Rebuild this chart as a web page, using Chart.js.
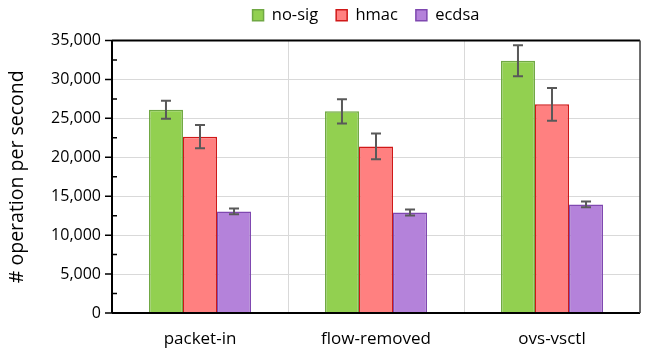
<!DOCTYPE html>
<html>
<head>
<meta charset="utf-8">
<script src="https://cdn.jsdelivr.net/npm/chart.js@4"></script>
<style>
  html, body { margin: 0; padding: 0; background: #fff; }
  #wrap { width: 648px; height: 353px; }
</style>
</head>
<body>
<div id="wrap"><canvas id="chart" width="648" height="353"></canvas></div>
<script>
// data
const categories = ["packet-in", "flow-removed", "ovs-vsctl"];
const noSig = [26100, 25900, 32400];
const noSigErr = [1150, 1550, 2000];
const hmac = [22650, 21400, 26800];
const hmacErr = [1500, 1650, 2100];
const ecdsa = [13050, 12900, 13950];
const ecdsaErr = [370, 380, 360];
const yTicks = [0, 5000, 10000, 15000, 20000, 25000, 30000, 35000];

const FONT = "'Open Sans', 'Noto Sans', sans-serif";

// error bars + frame + minor ticks
const extras = {
  id: "extras",
  beforeInit(chart) {
    // legend shorter so the plot starts at the right height
    const fit = chart.legend.fit;
    chart.legend.fit = function () { fit.call(this); this.height -= 4; };
  },
  beforeDraw(chart) {
    // legend centred over the plot and nudged up
    const lg = chart.legend;
    lg.left += 46; lg.right += 46;
    lg.top -= 11; lg.bottom -= 11;
  },
  afterDatasetsDraw(chart) {
    const ctx = chart.ctx;
    const y = chart.scales.y;
    const errs = [noSigErr, hmacErr, ecdsaErr];
    ctx.save();
    ctx.strokeStyle = "#595959";
    ctx.lineWidth = 2;
    chart.data.datasets.forEach((ds, i) => {
      chart.getDatasetMeta(i).data.forEach((bar, j) => {
        const v = ds.data[j], e = errs[i][j];
        const top = y.getPixelForValue(v + e), bot = y.getPixelForValue(v - e);
        ctx.beginPath();
        ctx.moveTo(bar.x, top); ctx.lineTo(bar.x, bot);
        ctx.moveTo(bar.x - 5, top); ctx.lineTo(bar.x + 5, top);
        ctx.moveTo(bar.x - 5, bot); ctx.lineTo(bar.x + 5, bot);
        ctx.stroke();
      });
    });
    const a = chart.chartArea;
    // frame
    ctx.strokeStyle = "#000";
    ctx.lineWidth = 2;
    ctx.beginPath();
    ctx.moveTo(a.left, a.top); ctx.lineTo(a.right, a.top);
    ctx.moveTo(a.left, a.bottom); ctx.lineTo(a.right, a.bottom);
    ctx.moveTo(a.left, a.top); ctx.lineTo(a.left, a.bottom);
    ctx.stroke();
    ctx.strokeStyle = "#404040";
    ctx.lineWidth = 1.5;
    ctx.beginPath();
    ctx.moveTo(a.right, a.top); ctx.lineTo(a.right, a.bottom);
    ctx.stroke();
    // major ticks outside, minor inside
    ctx.strokeStyle = "#000";
    ctx.lineWidth = 1.5;
    ctx.beginPath();
    yTicks.forEach(t => {
      const p = y.getPixelForValue(t);
      ctx.moveTo(a.left - 7, p); ctx.lineTo(a.left, p);
      if (t < 35000) {
        const m = y.getPixelForValue(t + 2500);
        ctx.moveTo(a.left, m); ctx.lineTo(a.left + 5, m);
      }
    });
    ctx.stroke();
    ctx.restore();
  }
};

new Chart(document.getElementById("chart"), {
  type: "bar",
  data: {
    labels: categories,
    datasets: [
      { label: "no-sig", data: noSig, backgroundColor: "#92d050", borderColor: "#70a844", borderWidth: 1.5 },
      { label: "hmac", data: hmac, backgroundColor: "#ff8080", borderColor: "#d01818", borderWidth: 1.5 },
      { label: "ecdsa", data: ecdsa, backgroundColor: "#b482da", borderColor: "#7f48b0", borderWidth: 1.5 }
    ]
  },
  options: {
    responsive: false,
    animation: false,
    datasets: { bar: { categoryPercentage: 0.58, barPercentage: 1.0 } },
    layout: { padding: { top: 0, right: 8, left: 0, bottom: 0 } },
    plugins: {
      legend: {
        position: "top",
        labels: {
          font: { family: FONT, size: 16.5 },
          color: "#000",
          boxWidth: 11,
          boxHeight: 11,
          padding: 18
        }
      },
      tooltip: { enabled: false }
    },
    scales: {
      x: {
        grid: { color: "#d9d9d9", drawTicks: false, offset: true },
        border: { display: false },
        afterFit: s => { s.height = 40; },
        ticks: { font: { family: FONT, size: 17 }, color: "#000", padding: 16 }
      },
      y: {
        min: 0,
        max: 35000,
        afterBuildTicks: s => { s.ticks = yTicks.map(v => ({ value: v })); },
        afterFit: s => { s.width = 112; },
        grid: { color: "#d9d9d9", drawTicks: false },
        border: { display: false },
        ticks: {
          font: { family: FONT, size: 16 },
          color: "#000",
          padding: 11,
          callback: v => v.toLocaleString("en-US")
        },
        title: {
          display: true,
          text: "# operation per second",
          font: { family: FONT, size: 19.5 },
          color: "#000",
          padding: { top: 6, bottom: 0 }
        }
      }
    }
  },
  plugins: [extras]
});
</script>
</body>
</html>
